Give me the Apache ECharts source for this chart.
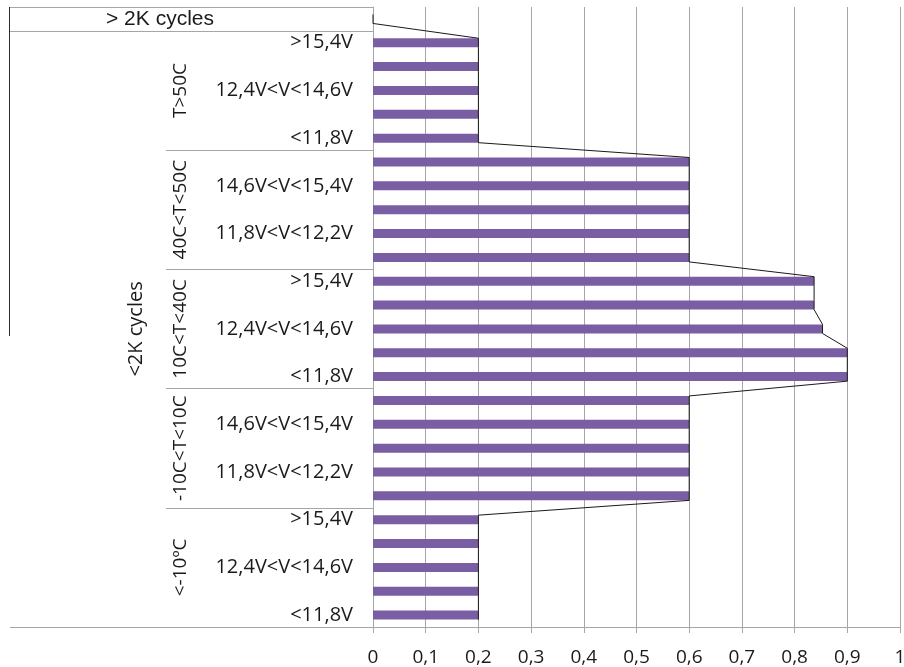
<!DOCTYPE html>
<html>
<head>
<meta charset="utf-8">
<script src="https://cdn.jsdelivr.net/npm/echarts@6/dist/echarts.min.js"></script>
<style>
html,body{margin:0;padding:0;background:#fff;}
#chart{width:904px;height:667px;}
</style>
</head>
<body>
<div id="chart"></div>
<script>
// ---- data ----
const cycleGroups = ['> 2K cycles', '<2K cycles'];
const tempGroups = ['T>50C', '40C<T<50C', '10C<T<40C', '-10C<T<10C', '<-10ºC'];
const voltageLevels = ['>15,4V', '14,6V<V<15,4V', '12,4V<V<14,6V', '11,8V<V<12,2V', '<11,8V'];
const overTwoKValue = [0];
const valuesT50 = [0.2, 0.2, 0.2, 0.2, 0.2];
const values40to50 = [0.6, 0.6, 0.6, 0.6, 0.6];
const values10to40 = [0.837, 0.837, 0.853, 0.9, 0.9];
const valuesM10to10 = [0.6, 0.6, 0.6, 0.6, 0.6];
const valuesBelowM10 = [0.2, 0.2, 0.2, 0.2, 0.2];

// ---- build categories ----
const groupValues = [valuesT50, values40to50, values10to40, valuesM10to10, valuesBelowM10];
const categories = [cycleGroups[0]];
const values = overTwoKValue.slice();
tempGroups.forEach((t, g) => {
  voltageLevels.forEach((v, k) => {
    categories.push(cycleGroups[1] + ' | ' + t + ' | ' + v);
    values.push(groupValues[g][k]);
  });
});
const N = categories.length;
const groupSize = voltageLevels.length;

// envelope line through bar-end corners (in category units)
const halfBar = 0.19;
const envelope = [];
values.forEach((v, i) => {
  envelope.push([v, i - halfBar]);
  envelope.push([v, i + halfBar]);
});

const calibri = 'Open Sans';
const textColor = '#1a1a1a';
const gridGray = '#a6a6a6';

const chart = echarts.init(document.getElementById('chart'), null, {renderer: 'canvas'});
const option = {
  animation: false,
  backgroundColor: '#ffffff',
  grid: {left: 373, right: 4, top: 7, bottom: 40, containLabel: false, outerBoundsMode: 'none'},
  xAxis: {
    type: 'value', min: 0, max: 1, interval: 0.1,
    axisLine: {show: true, onZero: false, lineStyle: {color: gridGray, width: 1}},
    axisTick: {show: true, length: 6, lineStyle: {color: gridGray}},
    splitLine: {show: true, lineStyle: {color: gridGray, width: 1}},
    axisLabel: {
      fontFamily: calibri, fontSize: 19, color: textColor, margin: 21,
      formatter: v => String(Math.round(v * 10) / 10).replace('.', ',')
    }
  },
  yAxis: [
    { // level 1: voltage
      type: 'category', data: categories, inverse: true, position: 'left', offset: 0,
      axisLine: {show: true, onZero: false, lineStyle: {color: gridGray}},
      axisTick: {show: false},
      axisLabel: {
        fontFamily: calibri, fontSize: 20, color: textColor, margin: 20,
        interval: (idx) => idx % 2 === 1,
        formatter: (val, idx) => idx === 0 ? '' : voltageLevels[(idx - 1) % groupSize]
      }
    },
    { // level 2: temperature
      type: 'category', data: categories, inverse: true, position: 'left', offset: 0,
      axisLine: {show: false},
      axisTick: {show: true, length: 207, interval: (idx) => idx > 1 && (idx - 1) % groupSize === 0,
        lineStyle: {color: gridGray}},
      axisLabel: {
        fontFamily: calibri, fontSize: 19, color: textColor, margin: 183, rotate: 90,
        interval: (idx) => idx > 0 && (idx - 1) % groupSize === 2,
        formatter: (val, idx) => idx === 0 ? '' : tempGroups[Math.floor((idx - 1) / groupSize)]
      }
    },
    { // level 3a: > 2K cycles
      type: 'category', data: categories, inverse: true, position: 'left', offset: 0,
      axisLine: {show: false},
      axisTick: {show: true, length: 363, interval: (idx) => idx <= 1, lineStyle: {color: gridGray}},
      axisLabel: {
        fontFamily: 'Liberation Sans', fontSize: 21, color: textColor, margin: 213, align: 'center',
        interval: (idx) => idx === 0,
        formatter: (val, idx) => idx === 0 ? cycleGroups[0] : ''
      }
    },
    { // level 3b: <2K cycles
      type: 'category', data: categories, inverse: true, position: 'left', offset: 0,
      axisLine: {show: false},
      axisTick: {show: false},
      axisLabel: {
        fontFamily: calibri, fontSize: 20, color: textColor, margin: 227, rotate: 90,
        interval: (idx) => idx === Math.floor((N) / 2),
        formatter: (val, idx) => cycleGroups[1]
      }
    },
    { // hidden value axis aligned with categories for the envelope line
      type: 'value', min: -0.5, max: N - 0.5, inverse: true, show: false, position: 'left'
    }
  ],
  series: [
    {
      type: 'bar', xAxisIndex: 0, yAxisIndex: 0, data: values, barWidth: 9,
      itemStyle: {color: '#7a5ea4'}, z: 2
    },
    {
      type: 'line', xAxisIndex: 0, yAxisIndex: 4, data: envelope,
      symbol: 'none', lineStyle: {color: '#1a1a1a', width: 1}, z: 3, clip: false
    }
  ],
  graphic: [
    {type: 'line', shape: {x1: 9.5, y1: 7, x2: 9.5, y2: 336}, style: {stroke: '#2a2a2a', lineWidth: 1}}
  ]
};
chart.setOption(option);
</script>
</body>
</html>
